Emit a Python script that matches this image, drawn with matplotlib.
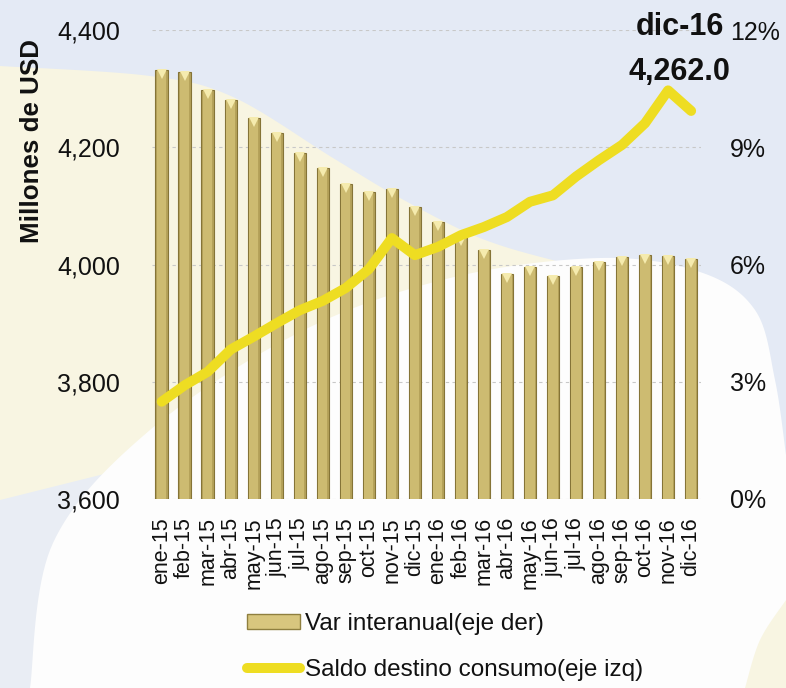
import matplotlib
matplotlib.use("Agg")
import numpy as np
import matplotlib.pyplot as plt
from matplotlib.patches import Polygon, Patch
from matplotlib.lines import Line2D
from matplotlib.ticker import FuncFormatter, FixedLocator
import matplotlib.transforms as mtransforms

months = ['ene-15', 'feb-15', 'mar-15', 'abr-15', 'may-15', 'jun-15', 'jul-15', 'ago-15',
          'sep-15', 'oct-15', 'nov-15', 'dic-15', 'ene-16', 'feb-16', 'mar-16', 'abr-16',
          'may-16', 'jun-16', 'jul-16', 'ago-16', 'sep-16', 'oct-16', 'nov-16', 'dic-16']
var_interanual = [10.98, 10.93, 10.47, 10.21, 9.74, 9.37, 8.86, 8.46, 8.05, 7.85, 7.92, 7.48,
                  7.08, 6.70, 6.37, 5.76, 5.94, 5.71, 5.94, 6.07, 6.18, 6.24, 6.23, 6.15]
saldo_consumo = [3766, 3794, 3817, 3855, 3877, 3900, 3922, 3938, 3960, 3992, 4045, 4016,
                 4030, 4050, 4064, 4081, 4107, 4118, 4150, 4178, 4204, 4241, 4297, 4262]
left_ticks = [3600, 3800, 4000, 4200, 4400]
right_ticks = [0, 3, 6, 9, 12]
label_bars = 'Var interanual(eje der)'
label_line = 'Saldo destino consumo(eje izq)'
ylabel = 'Millones de USD'
annot_month = 'dic-16'
annot_value = '4,262.0'

FONT = ['Liberation Sans', 'DejaVu Sans']
TXT = '#111111'

W, H = 786, 688
fig = plt.figure(figsize=(W / 100, H / 100), dpi=100)
BLUE = '#E4EAF5'
fig.patch.set_facecolor(BLUE)


def smooth(pts, n=20):
    """Catmull-Rom smoothing of a decorative outline (background only)."""
    p = np.asarray(pts, float)
    p = np.vstack([p[0], p, p[-1]])
    out = []
    for i in range(1, len(p) - 2):
        p0, p1, p2, p3 = p[i - 1], p[i], p[i + 1], p[i + 2]
        for t in np.linspace(0, 1, n, endpoint=False):
            t2, t3 = t * t, t * t * t
            out.append(0.5 * ((2 * p1) + (-p0 + p2) * t + (2 * p0 - 5 * p1 + 4 * p2 - p3) * t2
                              + (-p0 + 3 * p1 - 3 * p2 + p3) * t3))
    out.append(p[-2])
    return np.array(out)


bg = fig.add_axes([0, 0, 1, 1], zorder=-10)
bg.set_xlim(0, W)
bg.set_ylim(H, 0)
bg.axis('off')
# soft grey-blue lower left
bg.add_patch(Polygon([(0, 430), (300, 430), (300, 688), (0, 688)], closed=True, color='#E9EDF4', lw=0))
# cream swoosh
cream_top = smooth([(0, 66), (150, 76), (233, 97), (333, 158), (400, 198), (480, 238), (560, 262), (640, 280)])
cream = np.vstack([cream_top, [(640, 420), (300, 420), (120, 470), (0, 500)]])
bg.add_patch(Polygon(cream, closed=True, color='#F8F5E2', lw=0))
# white glow
white_top = smooth([(30, 688), (53, 543), (150, 430), (300, 332), (450, 278), (600, 258),
                    (700, 272), (755, 310), (775, 380), (786, 455)])
white = np.vstack([white_top, [(786, 688)]])
bg.add_patch(Polygon(white, closed=True, color='#FDFDFD', lw=0))
bg.add_patch(Polygon(smooth([(786, 600), (760, 640), (745, 688)]).tolist() + [(786, 688)],
                     closed=True, color='#F8F5E2', lw=0))

ax2 = fig.add_axes([152 / W, 1 - 499 / H, (701 - 152) / W, (499 - 30) / H])
ax = ax2.twinx()
ax2.yaxis.tick_right()
ax.yaxis.tick_left()
ax2.patch.set_visible(False)
ax.patch.set_visible(False)

x = list(range(len(months)))

# bars on right axis
ax2.bar(x, var_interanual, width=0.54, color='#B5A25A', edgecolor='#857437', linewidth=0.8, zorder=2)
ax2.bar(x, var_interanual, width=0.40, color='#CDBB71', linewidth=0, zorder=3)
tri = mtransforms.offset_copy(ax2.transData, fig=fig, x=0, y=-4, units='dots')
ax2.plot(x, var_interanual, linestyle='none', marker='v', markersize=6.5,
         color='#F5EBAE', markeredgewidth=0, transform=tri, zorder=4)
ax2.set_ylim(0, 12)
ax2.set_xlim(-0.42, 23.43)
ax2.yaxis.set_major_locator(FixedLocator(right_ticks))
ax2.yaxis.set_major_formatter(FuncFormatter(lambda v, p: f'{v:.0f}%'))
ax2.grid(axis='y', color='#C8C8C8', linestyle=(0, (3, 3)), linewidth=0.8, zorder=0)
ax2.set_axisbelow(True)

# line on left axis
ax.plot(x, saldo_consumo, color='#EEDD22', linewidth=7.2, solid_capstyle='round',
        solid_joinstyle='round', zorder=5)
ax.set_ylim(3600, 4400)
ax.yaxis.set_major_locator(FixedLocator(left_ticks))
ax.yaxis.set_major_formatter(FuncFormatter(lambda v, p: f'{v:,.0f}'))

for a in (ax, ax2):
    for s in a.spines.values():
        s.set_visible(False)
    a.tick_params(length=0)

ax.tick_params(axis='y', pad=23, labelsize=18)
ax2.tick_params(axis='y', pad=21, labelsize=18)
for t in ax.get_yticklabels() + ax2.get_yticklabels():
    t.set_fontfamily(FONT)
    t.set_color(TXT)

ax2.set_xticks(x)
ax2.set_xticklabels(months, rotation=90, fontsize=15.5, family=FONT, color=TXT)
ax2.tick_params(axis='x', pad=13)

fig.text(32 / W, 1 - 141 / H, ylabel, rotation=90, ha='center', va='center',
         fontsize=18.7, fontweight='bold', family=FONT, color=TXT)

ax.annotate(annot_month, xy=(23, saldo_consumo[-1]), xytext=(-11, 84), textcoords='offset pixels',
            ha='center', va='center', fontsize=22, fontweight='bold', family=FONT, color=TXT)
ax.annotate(annot_value, xy=(23, saldo_consumo[-1]), xytext=(-12, 39), textcoords='offset pixels',
            ha='center', va='center', fontsize=22, fontweight='bold', family=FONT, color=TXT)

handles = [Patch(facecolor='#D8C67E', edgecolor='#8F7F3F', linewidth=1.0, label=label_bars),
           Line2D([0], [0], color='#EEDD22', linewidth=7.2, solid_capstyle='round', label=label_line)]
leg = fig.legend(handles=handles, loc='upper left', bbox_to_anchor=(247 / W, 1 - 613 / H),
                 frameon=False, prop={'family': FONT, 'size': 17.5}, handlelength=2.2,
                 handleheight=0.55, handletextpad=0.2, labelspacing=0.98, borderpad=0,
                 borderaxespad=0)
for t in leg.get_texts():
    t.set_color(TXT)

fig.savefig('out.png', dpi=100, facecolor=fig.get_facecolor())
